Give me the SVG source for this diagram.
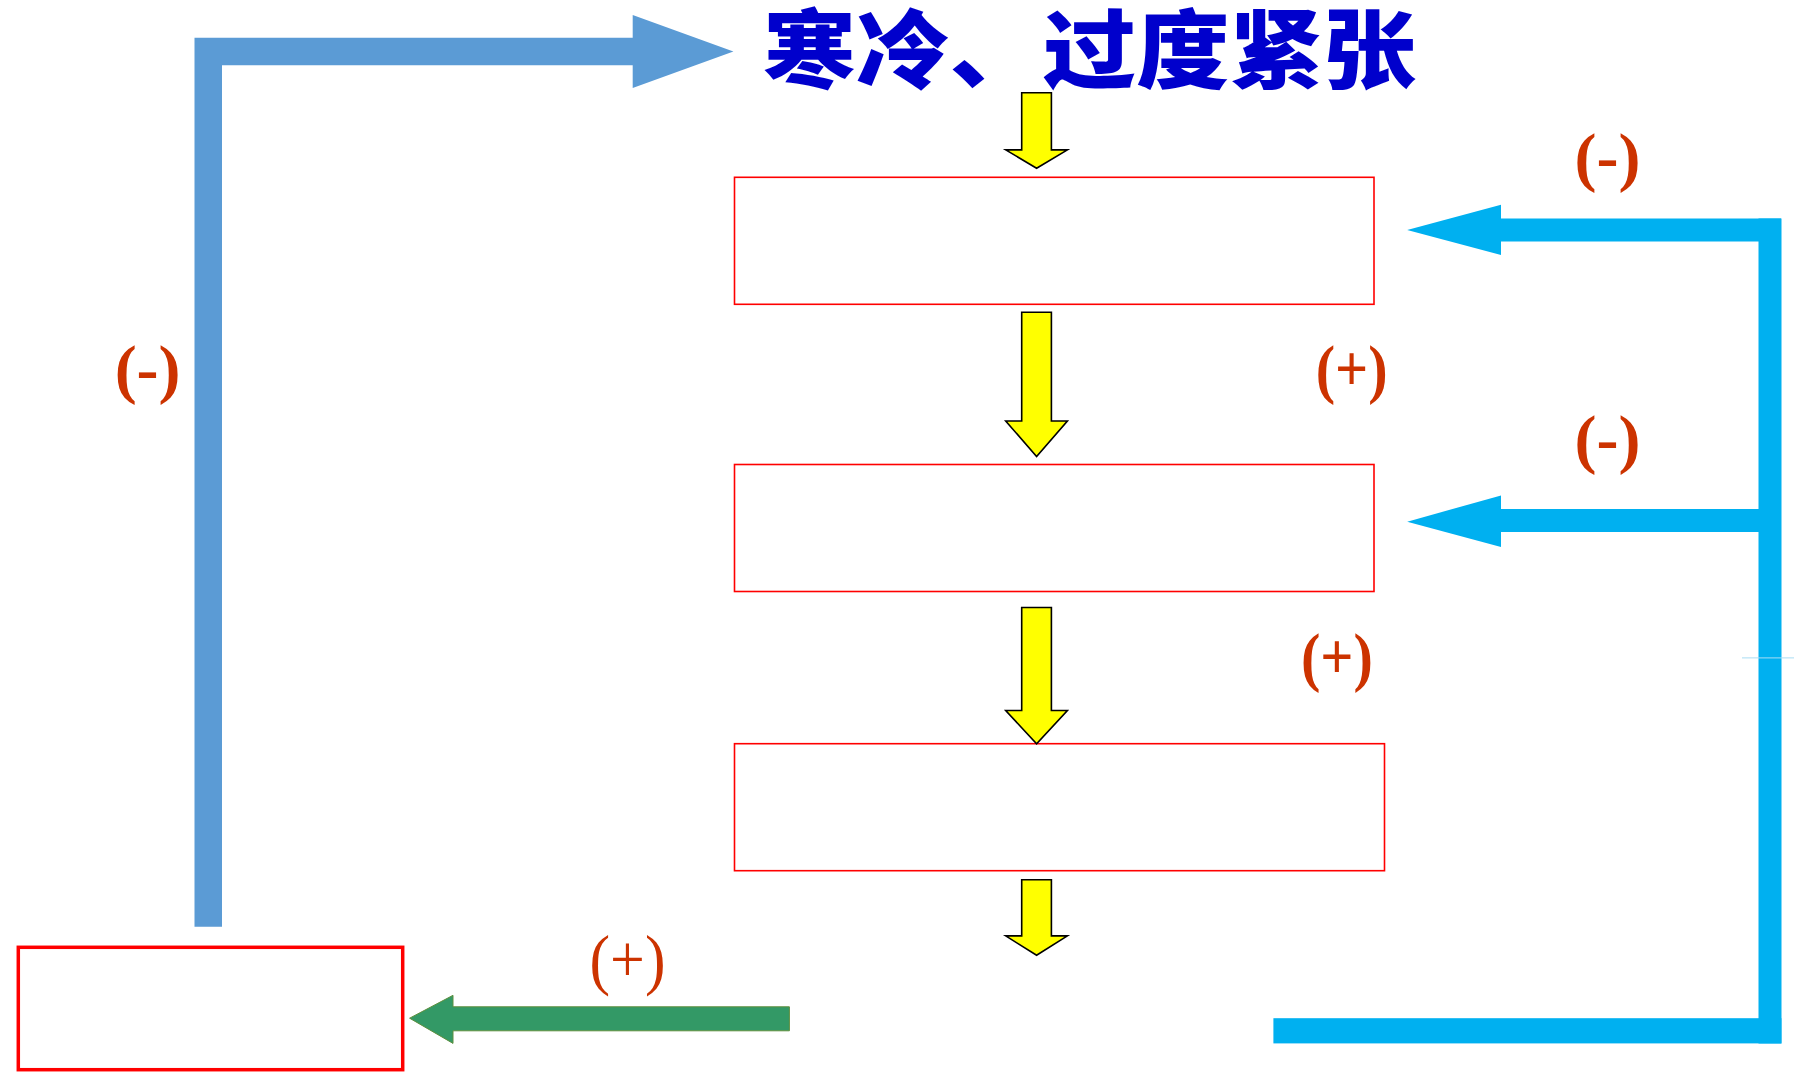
<svg xmlns="http://www.w3.org/2000/svg" width="1794" height="1081" viewBox="0 0 1794 1081">
<style>
.box{fill:#FFFFFF;stroke:#FF0000;stroke-width:1.6}
.yel{fill:#FFFF00;stroke:#000000;stroke-width:1.6;stroke-linejoin:miter}
.sign{font-family:"Liberation Serif","Times New Roman",serif;font-weight:bold;font-size:66px;fill:#CC3300;text-anchor:middle}
.title{font-family:"Noto Sans CJK SC","Noto Sans CJK JP",sans-serif;font-weight:900;font-size:86px;fill:#0000CC}
</style>
<rect x="0" y="0" width="1794" height="1081" fill="#FFFFFF"/>
<g id="title">
<text class="title" x="763" y="82" textLength="653" lengthAdjust="spacingAndGlyphs">寒冷、过度紧张</text>
</g>
<g id="box1"><rect class="box" x="734.5" y="177.3" width="639.5" height="127"/></g>
<g id="box2"><rect class="box" x="734.5" y="464.5" width="639.5" height="127"/></g>
<g id="box3"><rect class="box" x="734.5" y="743.7" width="650" height="127"/></g>
<g id="box4"><rect x="18.3" y="947.3" width="384.4" height="122.4" fill="#FFFFFF" stroke="#FF0000" stroke-width="3.5"/></g>
<g id="connectors">
<path id="blue-left" d="M194.5,926.7 V37.8 H632.7 V14.9 L733.4,51.5 L632.7,88.1 V65.2 H222 V926.7 Z" fill="#5B9BD5"/>
<polygon class="yel" points="1021.7,92.7 1051.4,92.7 1051.4,149.9 1067.4,149.9 1036.6,168.2 1005.7,149.9 1021.7,149.9"/>
<polygon class="yel" points="1021.7,312.3 1051.4,312.3 1051.4,421 1067.4,421 1036.6,456.5 1005.7,421 1021.7,421"/>
<polygon class="yel" points="1021.7,607.5 1051.4,607.5 1051.4,710.5 1067.4,710.5 1036.6,743.7 1005.7,710.5 1021.7,710.5"/>
<polygon class="yel" points="1021.7,879.8 1051.4,879.8 1051.4,935.9 1067.4,935.9 1036.6,955.3 1005.7,935.9 1021.7,935.9"/>
<polygon id="green" points="789.4,1006.8 789.4,1030.8 453,1030.8 453,1043.4 409.6,1018.2 453,995.3 453,1006.8" fill="#339966" stroke="#5E8F3E" stroke-width="1"/>
<g id="cyan-loop" fill="#00B0F0">
<rect x="1758.5" y="218.5" width="23" height="825"/>
<rect x="1501" y="218.5" width="280" height="23"/>
<polygon points="1501,204.8 1501,255.1 1407.2,230"/>
<rect x="1501" y="509" width="260" height="23"/>
<polygon points="1501,495.4 1501,546.9 1407.2,521.7"/>
<rect x="1273.4" y="1018.2" width="508" height="25.2"/>
</g>
<line x1="1742" y1="657.9" x2="1794" y2="657.9" stroke="#A8DDF4" stroke-width="1"/>
</g>
<g id="labels">
<text class="sign" x="147.6" y="391">(-)</text>
<text class="sign" x="1607.5" y="179">(-)</text>
<text class="sign" x="1351.7" y="391" textLength="72" lengthAdjust="spacingAndGlyphs">(+)</text>
<text class="sign" x="1607.5" y="461">(-)</text>
<text class="sign" x="1336.9" y="679" textLength="72" lengthAdjust="spacingAndGlyphs">(+)</text>
<text class="sign" x="627.5" y="982" style="font-weight:normal;font-size:68px" textLength="76" lengthAdjust="spacingAndGlyphs">(+)</text>
</g>
</svg>
